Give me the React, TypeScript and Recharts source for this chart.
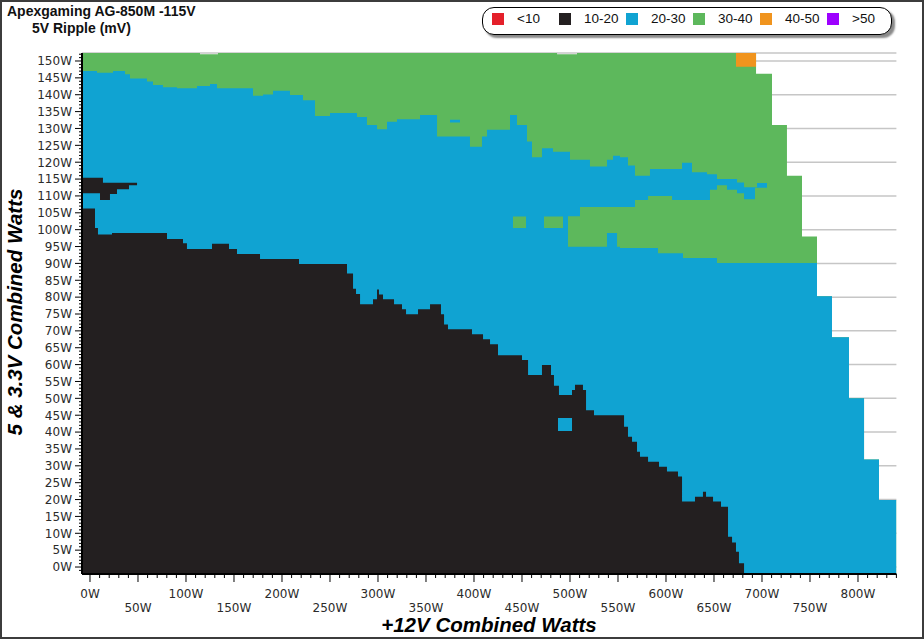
import React from 'react';
import { ComposedChart, Area, XAxis, YAxis, CartesianGrid } from 'recharts';

// axis extents (watts)
const X_MIN = -8.33;
const X_MAX = 840;
const Y_MIN = -2.07;
const Y_MAX = 152.37;

const BANDS = ['<10', '10-20', '20-30', '30-40', '40-50', '>50'];
const BAND_COLORS = ['#e4202a', '#231f20', '#10a3d2', '#5db85c', '#f0941e', '#9d00ff'];

const X_MAJOR = [0, 50, 100, 150, 200, 250, 300, 350, 400, 450, 500, 550, 600, 650, 700, 750, 800];
const Y_MAJOR = [
  0, 5, 10, 15, 20, 25, 30, 35, 40, 45, 50, 55, 60, 65, 70, 75, 80, 85, 90, 95, 100, 105, 110, 115, 120, 125,
  130, 135, 140, 145, 150,
];
const X_MINOR = Array.from({ length: 85 }, (_, i) => i * 10);
const Y_MINOR = Array.from({ length: 154 }, (_, i) => i - 1);

type Step = [number, number]; // [from +12V watts, level in 5&3.3V watts]
type Band = [number, number, number, number]; // [from, to, low, high]

// outer edge of the tested region (everything under it is at least 30-40 mV)
const TOP_EDGE: Step[] = [
  [X_MIN, Y_MAX], [114.6, 152], [133.3, Y_MAX], [486.5, 152], [507.3, Y_MAX],
  [693.8, 146.2], [710.4, 131], [726, 116], [741.7, 98], [757.3, 80.3], [772.9, 68.1],
  [790.6, 50], [806.3, 31.9], [821.9, 19.9],
];

// upper edge of the 20-30 mV region
const BLUE_TOP: Step[] = [
  [X_MIN, 147], [7.3, 146.5], [24, 147], [36.5, 146.1], [41.7, 144.8], [59.4, 143.9], [65.6, 142.9],
  [76, 142.2], [90.6, 141.9], [111.5, 142.6], [125, 143.2], [132.3, 141.9], [169.8, 139.7], [180.2, 140.1],
  [190.6, 141.2], [208.3, 139.9], [221.9, 138.4], [234.4, 133.7], [250, 134.6], [278.1, 133.4], [288.5, 131],
  [299, 129.8], [309.4, 132], [319.8, 132.7], [343.8, 134], [361.5, 127.6], [395.8, 124.6], [408.3, 127.6],
  [413.5, 129.6], [437.5, 134], [444.8, 131], [455.2, 126.1], [460.4, 121.5], [470.8, 124.1], [482.3, 123.1],
  [500, 120.7], [520.8, 118.7], [538.5, 120.7], [544.8, 121.9], [552.1, 121.5], [560.4, 119], [567.7, 116],
  [583.3, 118], [616.7, 119.8], [627.1, 117], [642.7, 116.4], [653.1, 115], [674, 114], [681.3, 112.6],
  [694.8, 113.8], [705.2, 90.1], [757.3, 80.3], [772.9, 68.1], [790.6, 50], [806.3, 31.9], [821.9, 19.9],
];

// upper edge of the 10-20 mV region
const BLACK_TOP: Step[] = [
  [X_MIN, 106.3], [5.2, 100.5], [8.3, 98.6], [22.9, 99], [80.2, 97.2], [96.9, 96], [101, 94.3],
  [127.1, 95.8], [144.8, 94.3], [153.1, 92.8], [177.1, 91.3], [217.7, 89.8], [267.7, 87], [274, 82.5],
  [277.1, 80.9], [281.3, 77.9], [294.8, 79.4], [299, 82.3], [301, 80.8], [305.2, 79.4], [316.7, 77.9],
  [325, 76.4], [329.2, 74.9], [341.7, 76.4], [354.2, 77.9], [365.6, 74.9], [368.8, 71.9], [372.9, 70.5],
  [397.9, 69], [409.4, 67.5], [416.7, 66], [425, 62.8], [450, 61.4], [456.3, 56.9], [470.8, 59.9],
  [480.2, 56.9], [483.3, 53.7], [488.5, 51], [502.1, 52.5], [505.2, 54], [513.5, 52.5], [516.7, 46.5],
  [525, 45], [556.3, 41.6], [560.4, 38.6], [564.6, 37.1], [569.8, 34.2], [572.9, 32.7], [581.3, 31.2],
  [592.7, 29.7], [601, 28.3], [612.5, 26.8], [616.7, 19.4], [630.2, 20.8], [638.5, 22.3], [641.7, 20.8],
  [649, 19.4], [657.3, 17.9], [664.6, 9], [668.8, 7.3], [672.9, 4.5], [676, 1.1], [681.3, Y_MIN],
];

// patches of 30-40 mV inside the 20-30 mV region
const GREEN_PATCHES: Band[] = [
  [440.6, 454.2, 100.5, 103.9], [472.9, 492.7, 100.5, 103.9], [497.9, 510.4, 94.9, 104],
  [510.4, 538.5, 94.9, 106.7], [538.5, 549, 99, 106.7], [549, 552.1, 94.9, 106.7],
  [552.1, 567.7, 94.6, 106.7], [567.7, 581.3, 94.6, 108.8], [581.3, 591.7, 94.6, 110],
  [591.7, 606.3, 93, 110], [606.3, 617.7, 93, 108.8], [617.7, 645.8, 91.6, 108.8],
  [645.8, 653.1, 91.6, 111.8], [653.1, 663.5, 90.1, 113.2], [663.5, 674, 90.1, 111.8],
  [674, 681.3, 90.1, 110.8], [681.3, 692.7, 90.1, 109], [692.7, 705.2, 90.1, 112.4],
];

const BLUE_PATCHES: Band[] = [
  [375, 385.4, 131.8, 132.6],
  [487.5, 502.1, 40.3, 44.2],
];

const BLACK_PATCHES: Band[] = [
  [X_MIN, 10.4, 110.8, 115.4], [10.4, 13.5, 108.8, 115.4], [13.5, 20.8, 108.8, 113.9],
  [20.8, 28.1, 110.6, 113.9], [28.1, 40.6, 112, 113.9], [40.6, 49, 113.2, 113.9],
];

const ORANGE_PATCHES: Band[] = [[672.9, 693.8, 148.3, Y_MAX]];

const levelAt = (steps: Step[], x: number) => {
  let v = Y_MIN;
  for (const [from, level] of steps) if (from <= x) v = level;
  return v;
};

const bandAt = (bands: Band[], x: number): [number, number] => {
  const b = bands.find(([from, to]) => from <= x && x < to);
  return b ? [b[2], b[3]] : [Y_MIN, Y_MIN];
};

const xs = Array.from(
  new Set<number>([
    X_MIN,
    X_MAX,
    ...[TOP_EDGE, BLUE_TOP, BLACK_TOP].flatMap((s) => s.map((p) => p[0])),
    ...[GREEN_PATCHES, BLUE_PATCHES, BLACK_PATCHES, ORANGE_PATCHES].flatMap((b) => b.flatMap((p) => [p[0], p[1]])),
  ]),
).sort((a, b) => a - b);

const rows = xs.map((x) => ({
  x,
  green: [Y_MIN, levelAt(TOP_EDGE, x)],
  blue: [Y_MIN, levelAt(BLUE_TOP, x)],
  black: [Y_MIN, levelAt(BLACK_TOP, x)],
  greenPatch: bandAt(GREEN_PATCHES, x),
  bluePatch: bandAt(BLUE_PATCHES, x),
  blackPatch: bandAt(BLACK_PATCHES, x),
  orangePatch: bandAt(ORANGE_PATCHES, x),
}));

const SERIES: { key: string; color: string }[] = [
  { key: 'green', color: BAND_COLORS[3] },
  { key: 'blue', color: BAND_COLORS[2] },
  { key: 'black', color: BAND_COLORS[1] },
  { key: 'greenPatch', color: BAND_COLORS[3] },
  { key: 'bluePatch', color: BAND_COLORS[2] },
  { key: 'blackPatch', color: BAND_COLORS[1] },
  { key: 'orangePatch', color: BAND_COLORS[4] },
];

const tickFont = { fontFamily: '"DejaVu Sans", Verdana, sans-serif', fontSize: 12, fill: '#2b2b2b' };

const XTick = (props: any) => {
  const { x, y, payload } = props;
  const v = payload.value;
  const major = X_MAJOR.includes(v);
  return (
    <g>
      <line x1={x} x2={x} y1={y} y2={y + (major ? 8 : 4)} stroke="#000" strokeWidth={1} />
      {major && (
        <text x={x} y={y + (v % 100 === 0 ? 23.5 : 37.5)} textAnchor="middle" {...tickFont}>
          {v}W
        </text>
      )}
    </g>
  );
};

const YTick = (props: any) => {
  const { x, y, payload } = props;
  const v = payload.value;
  const major = Y_MAJOR.includes(v);
  return (
    <g>
      <line x1={x - (major ? 7 : 3)} x2={x} y1={y} y2={y} stroke="#000" strokeWidth={1} />
      {major && (
        <text x={x - 10} y={y} dy="0.36em" textAnchor="end" {...tickFont}>
          {v}W
        </text>
      )}
    </g>
  );
};

const Legend = () => (
  <div
    style={{
      position: 'absolute',
      left: 482,
      top: 7,
      width: 410,
      height: 28,
      boxSizing: 'border-box',
      border: '1.5px solid #000',
      borderRadius: 12,
      background: '#fff',
      boxShadow: '3px 3px 2px #8a8a8a',
    }}
  >
    {BANDS.map((name, i) => (
      <div key={name} style={{ position: 'absolute', left: 9 + i * 67, top: 5, width: 67, height: 12 }}>
        <div style={{ position: 'absolute', left: 0, top: 0, width: 12, height: 12, background: BAND_COLORS[i] }} />
        <div
          style={{
            position: 'absolute',
            left: 25,
            top: -2,
            fontFamily: '"Liberation Sans", Arial, sans-serif',
            fontSize: 13.5,
            lineHeight: '16px',
            color: '#111',
            whiteSpace: 'nowrap',
          }}
        >
          {name}
        </div>
      </div>
    ))}
  </div>
);

const App: React.FC = () => {
  const titleFont = '"Liberation Sans", Arial, sans-serif';
  return (
    <div style={{ position: 'absolute', left: 0, top: 0, width: 924, height: 639, background: '#fff' }}>
      <ComposedChart width={924} height={639} data={rows} margin={{ top: 53, right: 27.6, bottom: 0, left: 0 }}>
        <CartesianGrid yAxisId="g" vertical={false} stroke="#c6c6c6" strokeWidth={1.5} />
        {SERIES.map((s) => (
          <Area
            key={s.key}
            yAxisId="v"
            type="stepAfter"
            dataKey={s.key}
            fill={s.color}
            fillOpacity={1}
            stroke="none"
            dot={false}
            activeDot={false}
            isAnimationActive={false}
          />
        ))}
        <XAxis
          dataKey="x"
          type="number"
          domain={[X_MIN, X_MAX]}
          allowDataOverflow
          ticks={X_MINOR}
          interval={0}
          height={65}
          tickSize={0}
          tickMargin={0}
          tickLine={false}
          axisLine={{ stroke: '#000', strokeWidth: 2 }}
          tick={XTick}
        />
        <YAxis
          yAxisId="v"
          type="number"
          domain={[Y_MIN, Y_MAX]}
          allowDataOverflow
          ticks={Y_MINOR}
          interval={0}
          width={82}
          tickSize={0}
          tickMargin={0}
          tickLine={false}
          axisLine={{ stroke: '#000', strokeWidth: 2 }}
          tick={YTick}
        />
        <YAxis
          yAxisId="g"
          orientation="right"
          hide
          width={0}
          type="number"
          domain={[Y_MIN, Y_MAX]}
          allowDataOverflow
          ticks={Y_MAJOR}
        />
      </ComposedChart>

      <svg width={924} height={639} style={{ position: 'absolute', left: 0, top: 0, pointerEvents: 'none' }}>
        <text x={7} y={16} fontFamily={titleFont} fontWeight="bold" fontSize={14} fill="#111">
          Apexgaming AG-850M -115V
        </text>
        <text x={32} y={33} fontFamily={titleFont} fontWeight="bold" fontSize={14} fill="#111">
          5V Ripple (mV)
        </text>
        <text
          x={489}
          y={632}
          textAnchor="middle"
          fontFamily={titleFont}
          fontWeight="bold"
          fontStyle="italic"
          fontSize={20.5}
          fill="#000"
        >
          +12V Combined Watts
        </text>
        <text
          x={22}
          y={312}
          transform="rotate(-90 22 312)"
          textAnchor="middle"
          fontFamily={titleFont}
          fontWeight="bold"
          fontStyle="italic"
          fontSize={20.5}
          fill="#000"
        >
          5 &amp; 3.3V Combined Watts
        </text>
      </svg>

      <Legend />
      <div
        style={{
          position: 'absolute',
          left: 0,
          top: 0,
          width: 924,
          height: 639,
          boxSizing: 'border-box',
          border: '2px solid #3c3c3c',
          pointerEvents: 'none',
        }}
      />
    </div>
  );
};

export default App;
